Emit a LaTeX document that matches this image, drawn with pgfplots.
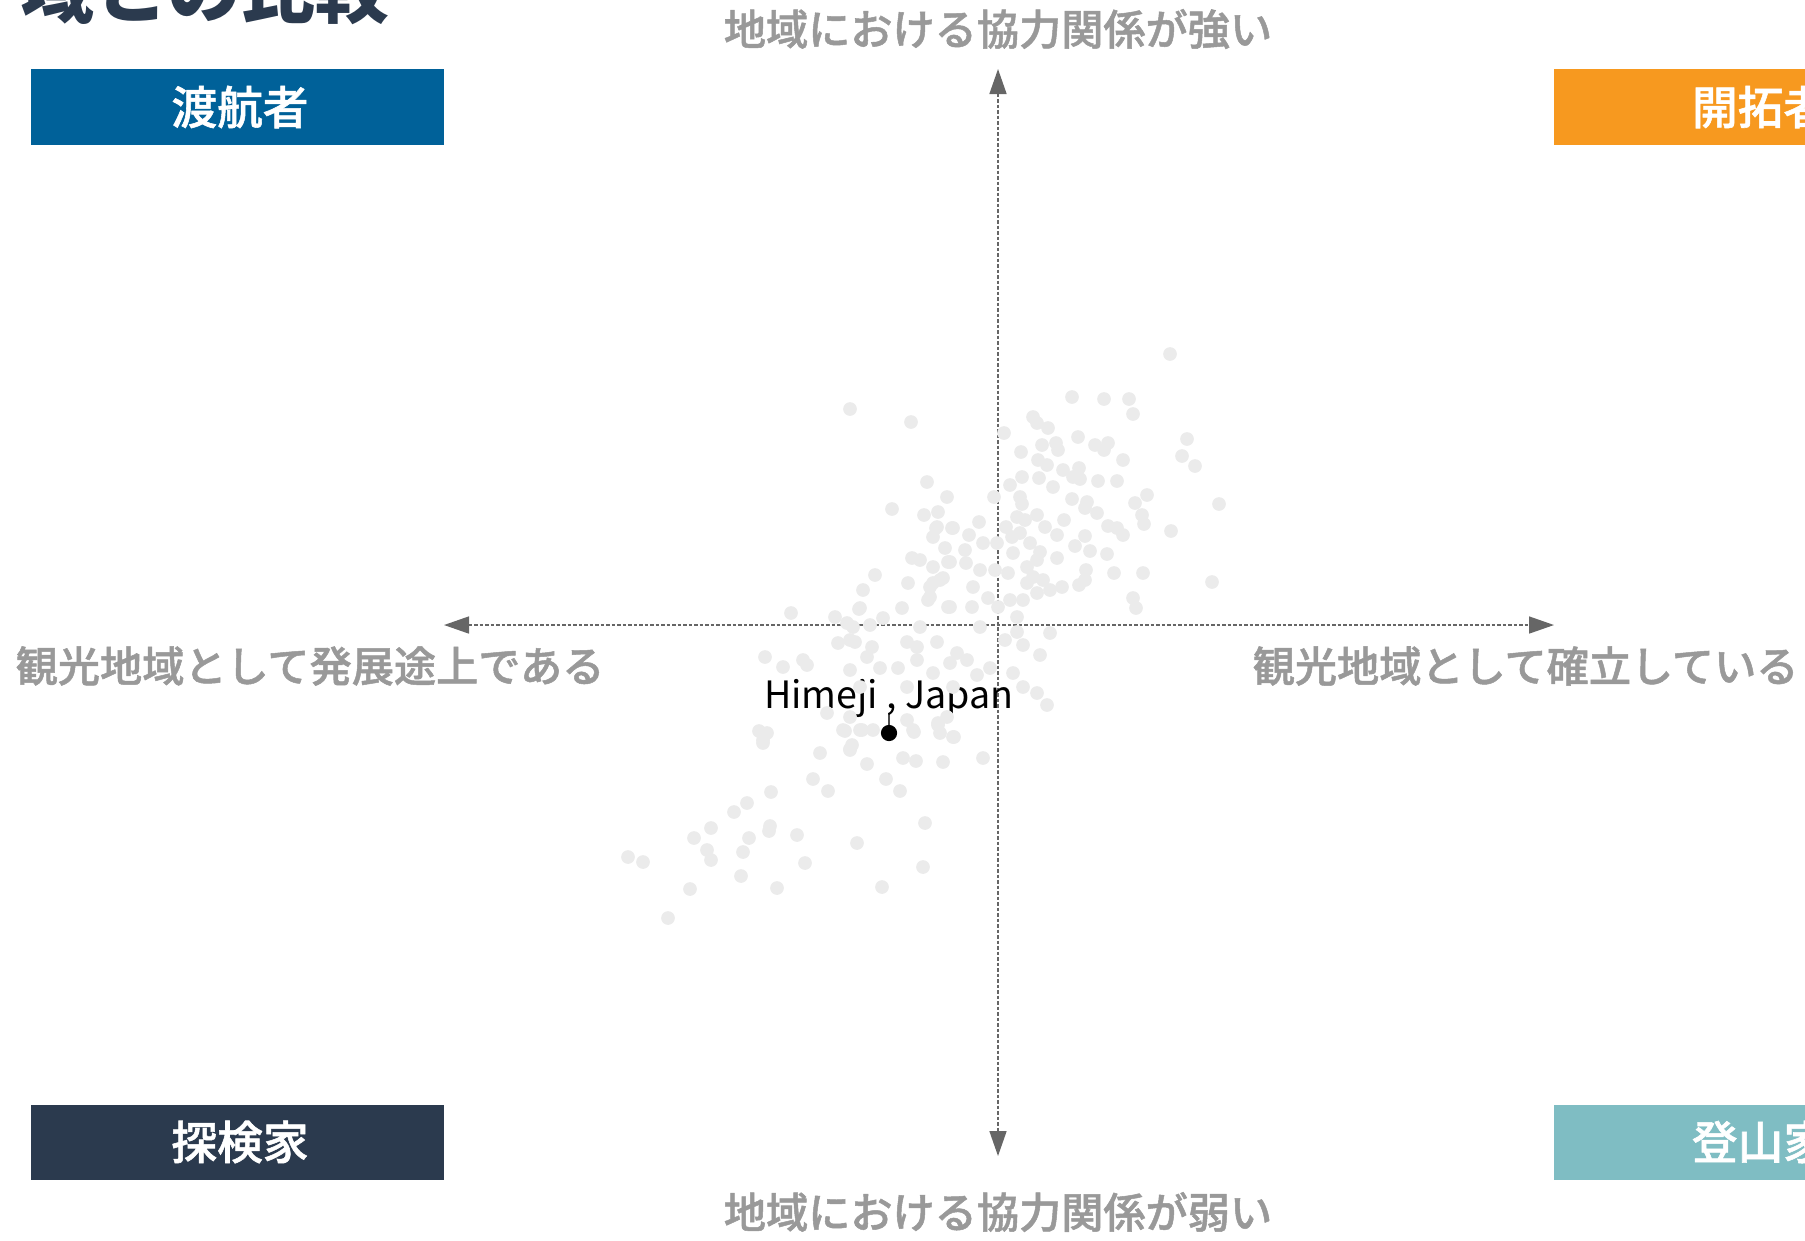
\documentclass[border=0pt]{standalone}
\usepackage{fontspec}
\setmainfont{Noto Sans CJK JP}
\newfontfamily\jpmed[FakeBold=1.2]{Noto Sans CJK JP Medium}
\usepackage{pgfplots}
\pgfplotsset{compat=1.18}
\usetikzlibrary{arrows.meta}
\definecolor{navcol}{HTML}{006199}
\definecolor{piocol}{HTML}{F7991F}
\definecolor{expcol}{HTML}{2B3A4E}
\definecolor{clmcol}{HTML}{7FBDC3}
\definecolor{ptcol}{HTML}{EBEBEB}
\definecolor{labcol}{HTML}{999999}
\definecolor{axcol}{HTML}{666666}

% destinations, in pixel units of the original (y runs downwards)
\pgfplotstableread{
x y
1170 354
850 409
911 422
1072 397
1104 399
1129 399
1133 414
1033 417
1037 423
1048 428
1004 433
1078 437
1187 439
1095 445
1108 443
1104 450
1042 445
1056 443
1058 450
1021 452
1182 456
1195 466
1123 460
1038 460
1047 465
1063 470
1079 468
1073 477
1080 479
1039 478
1053 487
1098 481
1117 481
1022 477
1010 485
927 482
947 497
892 509
994 497
1020 497
1022 504
1072 499
1087 502
1085 508
1097 513
1135 503
1147 495
1142 515
1144 524
1219 504
1171 531
924 515
938 512
1017 517
1037 515
1025 520
1045 527
1064 520
1006 527
979 522
937 527
953 528
933 537
969 535
1108 526
1117 528
1123 535
1057 535
1085 536
1075 546
1090 551
1107 554
1012 537
1020 533
1030 543
997 543
983 543
945 548
965 550
1013 553
1040 552
1057 558
1037 560
912 558
920 560
933 567
950 562
966 563
980 570
995 570
1008 573
1027 567
1033 577
1043 580
1027 583
1086 570
1085 580
1079 585
1114 573
1143 573
1212 582
1062 587
1050 590
1037 593
1023 600
1010 600
998 607
1017 617
988 598
973 587
972 607
950 607
940 580
930 587
928 600
908 583
875 575
863 590
860 608
902 608
883 618
1133 598
1136 608
847 623
920 627
980 627
1050 633
936 528
952 528
948 562
943 578
933 583
930 597
948 607
859 609
791 613
835 617
853 627
870 625
838 643
855 642
872 647
907 642
917 647
937 642
765 657
803 660
850 640
867 657
957 653
967 660
950 663
917 660
898 668
880 668
850 670
807 665
783 667
990 668
1013 673
977 675
1023 687
1037 693
1047 705
933 673
953 687
907 687
860 687
827 713
850 717
907 720
938 723
947 717
913 730
940 733
953 737
843 730
862 730
873 730
767 733
763 740
820 753
850 750
1005 640
1023 645
1040 655
1017 632
759 731
763 743
845 731
860 730
914 732
938 725
954 737
852 745
850 749
867 764
903 758
916 761
943 762
983 758
813 779
828 791
886 779
900 791
771 792
747 803
734 812
711 828
694 838
770 826
769 831
749 838
797 835
707 850
711 860
743 852
925 823
857 843
628 857
643 862
805 863
923 867
741 876
690 889
777 888
882 887
668 918
}\others

\pgfplotstableread{
x y
889 733
}\himeji

\begin{document}
\begin{tikzpicture}
\begin{axis}[
  at={(0,0)}, anchor=south west,
  width=180.5mm, height=124mm, scale only axis,
  xmin=0, xmax=1805, ymin=0, ymax=1240, y dir=reverse,
  hide axis, clip=false,
]
  % quadrant boxes
  \fill[navcol] (axis cs:31,69) rectangle (axis cs:444,145);
  \fill[piocol] (axis cs:1554,69) rectangle (axis cs:1967,145);
  \fill[expcol] (axis cs:31,1105) rectangle (axis cs:444,1180);
  \fill[clmcol] (axis cs:1554,1105) rectangle (axis cs:1967,1180);
  \begin{scope}[every node/.style={text=white, inner sep=0,
      font=\fontsize{13pt}{15pt}\selectfont\jpmed}]
    \node at (axis cs:240,107) {渡航者};
    \node at (axis cs:1760.5,107) {開拓者};
    \node at (axis cs:240,1142) {探検家};
    \node at (axis cs:1760.5,1142) {登山家};
  \end{scope}

  \addplot[only marks, mark=*, mark size=1.75pt, color=ptcol]
    table[x=x, y=y] {\others};

  % axes through the middle
  \draw[axcol, line width=0.45pt, dash pattern=on 0.35mm off 0.2mm,
    {Triangle[length=2.5mm,width=1.7mm]}-{Triangle[length=2.5mm,width=1.7mm]}]
    (axis cs:444,625) -- (axis cs:1554,625);
  \draw[axcol, line width=0.45pt, dash pattern=on 0.35mm off 0.2mm,
    {Triangle[length=2.5mm,width=1.7mm]}-{Triangle[length=2.5mm,width=1.7mm]}]
    (axis cs:998,69) -- (axis cs:998,1156);

  \begin{scope}[every node/.style={text=labcol, inner sep=0,
      font=\fontsize{12pt}{14pt}\selectfont\jpmed}]
    \node at (axis cs:998,29) {地域における協力関係が強い};
    \node at (axis cs:998,1212) {地域における協力関係が弱い};
    \node[anchor=west] at (axis cs:15,666) {観光地域として発展途上である};
    \node[anchor=west] at (axis cs:1252,666) {観光地域として確立している};
  \end{scope}

  \draw[black!70, line width=0.3pt] (axis cs:889,713) -- (axis cs:889,728);
  \addplot[only marks, mark=*, mark size=2.1pt, color=black]
    table[x=x, y=y] {\himeji};
  \node[anchor=base, inner sep=0, font=\fontsize{10.7pt}{13pt}\selectfont]
    at (axis cs:889,708) {Himeji , Japan};

  \node[anchor=base west, inner sep=0, text=expcol,
    font=\fontsize{21pt}{24pt}\selectfont\bfseries]
    at (axis cs:20,17) {域との比較};
\end{axis}
\pgfresetboundingbox
\path[use as bounding box] (0,0) rectangle (180.5mm,124mm);
\end{tikzpicture}
\end{document}
